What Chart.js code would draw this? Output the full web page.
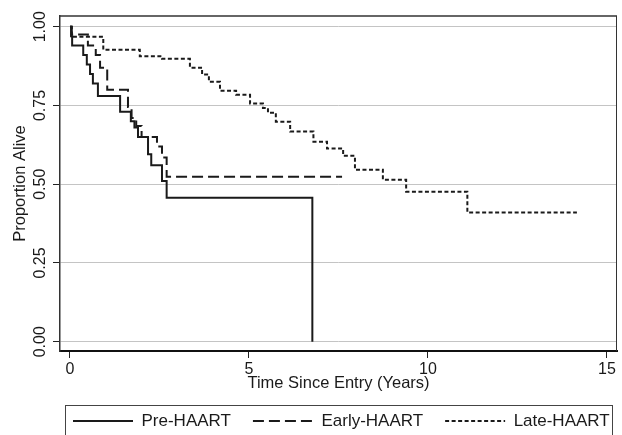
<!DOCTYPE html>
<html><head><meta charset="utf-8">
<script src="https://cdn.jsdelivr.net/npm/chart.js@4"></script>
<style>html,body{margin:0;padding:0;background:#fff}canvas{display:block}</style>
</head><body>
<canvas id="c" width="622" height="435"></canvas>
<script>
// ---- data ----
const seriesNames = ['Pre-HAART', 'Early-HAART', 'Late-HAART'];

const preTime = [0, 0.03, 0.06, 0.37, 0.47, 0.56, 0.64, 0.78, 1.40, 1.70, 1.80, 1.90, 2.18, 2.27, 2.57, 2.70, 6.77];
const preSurv = [1.0, 0.97, 0.94, 0.91, 0.88, 0.85, 0.82, 0.78, 0.73, 0.70, 0.68, 0.65, 0.595, 0.56, 0.51, 0.457, 0.0];

const earlyTime = [0, 0.05, 0.50, 0.72, 0.84, 1.04, 1.62, 1.72, 1.85, 2.00, 2.43, 2.57, 2.70, 7.60];
const earlySurv = [1.0, 0.975, 0.94, 0.91, 0.87, 0.80, 0.745, 0.71, 0.685, 0.65, 0.62, 0.585, 0.524, 0.524];

const lateTime = [0, 0.05, 0.93, 1.95, 2.57, 3.35, 3.69, 3.88, 4.19, 4.64, 5.03, 5.39, 5.53, 5.75, 6.15, 6.80, 7.18, 7.63, 7.96, 8.74, 9.39, 11.10, 14.16];
const lateSurv = [1.0, 0.968, 0.927, 0.906, 0.898, 0.87, 0.848, 0.825, 0.797, 0.784, 0.756, 0.742, 0.727, 0.698, 0.667, 0.635, 0.613, 0.59, 0.546, 0.514, 0.476, 0.41, 0.41];

const xTicks = [0, 5, 10, 15];
const yTicks = [0, 0.25, 0.5, 0.75, 1.0];
const xTitle = 'Time Since Entry (Years)';
const yTitle = 'Proportion Alive';

// ---- chart ----
const FONT = "'Liberation Sans', Arial, Helvetica, sans-serif";
const INK = '#1a1a1a';
function pts(t, s) { return t.map((v, i) => ({ x: v, y: s[i] })); }

const framePlugin = {
  id: 'frame',
  afterLayout(chart) {
    const lg = chart.legend;
    if (lg) {
      lg.left = 51;
      lg.right = chart.width + 40;
      lg.top = chart.height - 44.5;
      lg.bottom = lg.top + lg.height;
    }
  },
  beforeDatasetsDraw(chart) {
    const { ctx, chartArea: a } = chart;
    ctx.save();
    ctx.strokeStyle = '#333';
    ctx.lineWidth = 1.5;
    ctx.beginPath();
    ctx.moveTo(a.left, a.top);
    ctx.lineTo(a.right, a.top);
    ctx.stroke();
    ctx.lineWidth = 1;
    ctx.beginPath();
    ctx.moveTo(a.right - 0.5, a.top);
    ctx.lineTo(a.right - 0.5, a.bottom);
    ctx.stroke();
    ctx.restore();
  },
  afterDraw(chart) {
    const lg = chart.legend;
    if (!lg) return;
    const { ctx } = chart;
    ctx.save();
    ctx.strokeStyle = '#444';
    ctx.lineWidth = 1;
    const l = Math.round(lg.left + 14) + 0.5;
    const t = Math.round(lg.top + 14) + 0.5;
    const r = chart.width - 10 + 0.5;
    ctx.strokeRect(l, t, r - l, 80);
    ctx.restore();
  }
};

new Chart(document.getElementById('c'), {
  type: 'line',
  data: {
    datasets: [
      { label: seriesNames[0], data: pts(preTime, preSurv), borderColor: INK, backgroundColor: INK, borderWidth: 2, stepped: true, pointRadius: 0 },
      { label: seriesNames[1], data: pts(earlyTime, earlySurv), borderColor: INK, backgroundColor: INK, borderWidth: 2, borderDash: [11, 5], stepped: true, pointRadius: 0 },
      { label: seriesNames[2], data: pts(lateTime, lateSurv), borderColor: INK, backgroundColor: INK, borderWidth: 2, borderDash: [4, 2.5], stepped: true, pointRadius: 0 }
    ]
  },
  options: {
    responsive: false,
    animation: false,
    devicePixelRatio: 1,
    layout: { padding: { top: 16, right: 5, left: 0, bottom: 0 } },
    plugins: {
      tooltip: { enabled: false },
      legend: {
        position: 'bottom',
        align: 'start',
        labels: {
          usePointStyle: true,
          pointStyle: 'line',
          pointStyleWidth: 60,
          padding: 22,
          color: INK,
          font: { family: FONT, size: 17 },
          generateLabels: chart => {
            const items = Chart.defaults.plugins.legend.labels.generateLabels(chart);
            items.forEach(it => {
              const ds = chart.data.datasets[it.datasetIndex];
              it.lineDash = ds.borderDash || [];
              it.lineWidth = ds.borderWidth;
              it.strokeStyle = ds.borderColor;
            });
            return items;
          }
        }
      }
    },
    scales: {
      x: {
        type: 'linear',
        min: -0.279,
        max: 15.28,
        afterBuildTicks: s => { s.ticks = xTicks.map(v => ({ value: v })); },
        afterFit: s => { s.height = 35; },
        ticks: { color: INK, padding: 4, font: { family: FONT, size: 16, lineHeight: 1 }, callback: v => String(v) },
        grid: { drawOnChartArea: false, tickLength: 7, tickColor: '#222', lineWidth: 1 },
        border: { color: '#111', width: 2 },
        title: { display: true, text: xTitle, color: INK, font: { family: FONT, size: 16.5, lineHeight: 1 }, padding: { top: 0, bottom: -5.25 } }
      },
      y: {
        type: 'linear',
        min: -0.0295,
        max: 1.034,
        afterBuildTicks: s => { s.ticks = yTicks.map(v => ({ value: v })); },
        afterFit: s => { s.width = 60; },
        ticks: { color: INK, padding: -3, minRotation: 90, maxRotation: 90, crossAlign: 'center', font: { family: FONT, size: 16, lineHeight: 1 }, callback: v => Number(v).toFixed(2) },
        grid: { color: '#c4c4c4', lineWidth: 1, tickLength: 7, tickColor: '#222' },
        border: { color: '#333', width: 1.5 },
        title: { display: true, text: yTitle, color: INK, font: { family: FONT, size: 16.5, lineHeight: 1 }, padding: { top: 12, bottom: 0 } }
      }
    }
  },
  plugins: [framePlugin]
});
</script>
</body></html>
